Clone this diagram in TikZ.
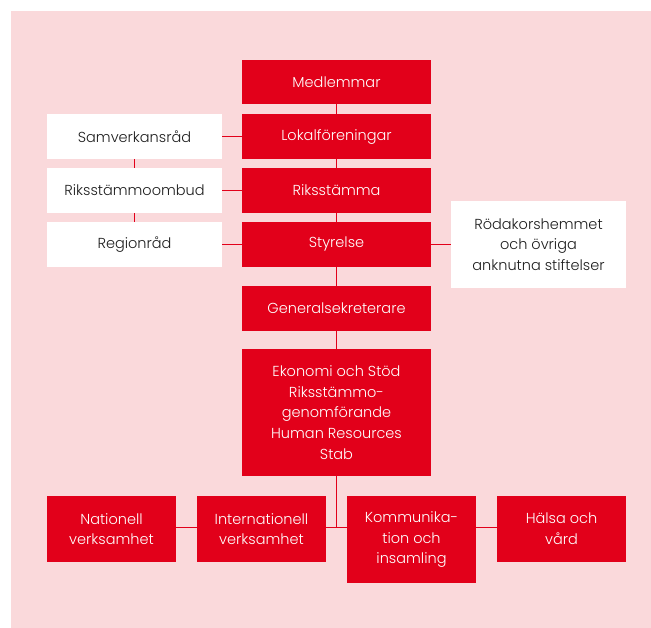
\documentclass[tikz,border=0pt]{standalone}
\usepackage{fontspec}
\setmainfont{Poppins}[UprightFont=* Light]
\definecolor{rkred}{HTML}{E2001A}
\definecolor{rkpink}{HTML}{FAD9DB}
\definecolor{rktext}{HTML}{1E1E1E}
\begin{document}
\begin{tikzpicture}[x=1pt,y=-1pt,
  redbox/.style={fill=rkred, text=white, inner sep=0pt, minimum width=189pt, minimum height=45pt, align=center, font=\fontsize{14.5}{20.7}\selectfont},
  whitebox/.style={fill=white, text=rktext, inner sep=0pt, minimum width=175pt, minimum height=45pt, align=center, font=\fontsize{14.5}{20.7}\selectfont},
  botbox/.style={redbox, minimum width=129pt, minimum height=66pt},
  conn/.style={draw=rkred, line width=1pt}]
\useasboundingbox (0,0) rectangle (651,628);
\fill[rkpink] (11,11) rectangle (651,628);
% central column
\node[redbox, minimum height=44pt] (med) at (336.5,82) {Medlemmar};
\node[redbox] (lok) at (336.5,136.5) {Lokalföreningar};
\node[redbox] (riks) at (336.5,190.5) {Riksstämma};
\node[redbox] (sty) at (336.5,244.5) {Styrelse};
\node[redbox] (gen) at (336.5,308.5) {Generalsekreterare};
\node[redbox, minimum height=127pt] (eko) at (336.5,412.5) {Ekonomi och Stöd\\Riksstämmo-\\genomförande\\Human Resources\\Stab};
% left column
\node[whitebox] (sam) at (134.5,136.5) {Samverkansråd};
\node[whitebox] (rso) at (134.5,190.5) {Riksstämmoombud};
\node[whitebox] (reg) at (134.5,244.5) {Regionråd};
% right
\node[whitebox, minimum height=87pt] (rod) at (538.5,244.5) {Rödakorshemmet\\och övriga\\anknutna stiftelser};
% bottom row
\node[botbox] (nat) at (111.5,529) {Nationell\\verksamhet};
\node[botbox] (int) at (261.5,529) {Internationell\\verksamhet};
\node[botbox, minimum height=87pt] (kom) at (411.5,539.5) {Kommunika-\\tion och\\insamling};
\node[botbox] (hal) at (561.5,529) {Hälsa och\\vård};
\coordinate (j) at (336.5,527);
% connectors
\draw[conn] (med.south) -- (lok.north);
\draw[conn] (lok.south) -- (riks.north);
\draw[conn] (riks.south) -- (sty.north);
\draw[conn] (sty.south) -- (gen.north);
\draw[conn] (gen.south) -- (eko.north);
\draw[conn] (sam.south) -- (rso.north);
\draw[conn] (rso.south) -- (reg.north);
\draw[conn] (sam.east) -- (lok.west);
\draw[conn] (rso.east) -- (riks.west);
\draw[conn] (reg.east) -- (sty.west);
\draw[conn] (sty.east) -- (rod.west);
\draw[conn] (eko.south) -- (j);
\draw[conn] (nat.east|-j) -- (int.west|-j);
\draw[conn] (int.east|-j) -- (kom.west|-j);
\draw[conn] (kom.east|-j) -- (hal.west|-j);
\end{tikzpicture}
\end{document}
